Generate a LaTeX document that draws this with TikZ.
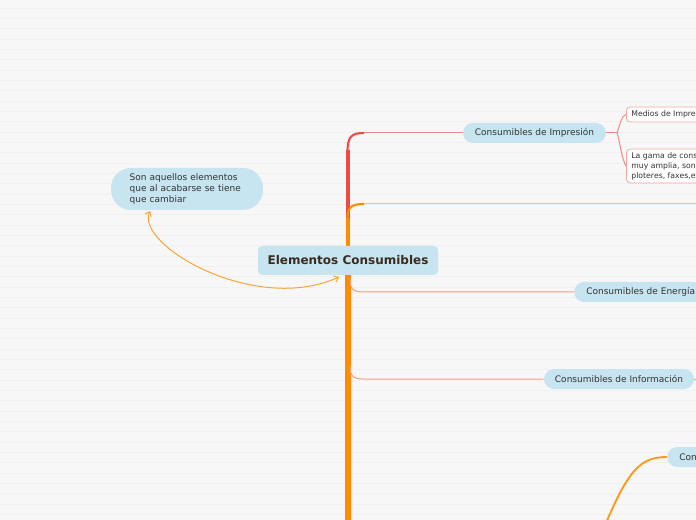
\documentclass[tikz,border=0pt]{standalone}
\usepackage{fontspec}
\setmainfont{DejaVu Sans}
\usetikzlibrary{arrows.meta}
\definecolor{bg}{HTML}{F7F7F7}
\definecolor{bgline}{HTML}{F0F0F0}
\definecolor{nodeblue}{HTML}{C6E5F0}
\definecolor{redtrunk}{HTML}{EF4B45}
\definecolor{orangetrunk}{HTML}{FF8C00}
\definecolor{redthin}{HTML}{F08A84}
\definecolor{peach}{HTML}{F8C07A}
\definecolor{salmon}{HTML}{F5A080}
\definecolor{boxborder}{HTML}{F4A8A4}
\definecolor{textdark}{HTML}{333333}
\definecolor{titlebrown}{HTML}{3B2A1E}
\definecolor{arrowor}{HTML}{F7A536}
\definecolor{bottomor}{HTML}{FF9A1A}
\tikzset{
  pill/.style={fill=nodeblue, rounded corners=7.5pt, minimum height=15pt, inner sep=0pt,
    font=\fontsize{6.75pt}{8pt}\selectfont, text=textdark},
  pillw/.style={pill, anchor=west, inner xsep=9pt},
  title/.style={fill=nodeblue, rounded corners=3pt, minimum width=135pt, minimum height=21.75pt,
    inner sep=0pt, font=\fontsize{9pt}{11pt}\selectfont\bfseries, text=titlebrown},
  note/.style={fill=nodeblue, rounded corners=15pt, minimum width=114pt, minimum height=31.5pt,
    inner sep=0pt, text width=86pt, align=left, font=\fontsize{6.75pt}{8.25pt}\selectfont, text=textdark},
  smallbox/.style={draw=boxborder, line width=0.6pt, fill=white, rounded corners=3pt, anchor=west,
    inner xsep=3.75pt, inner ysep=1.5pt, align=left, font=\fontsize{5.8pt}{7.5pt}\selectfont, text=textdark},
  thinred/.style={redthin, line width=0.75pt},
  thinsalmon/.style={salmon, line width=0.75pt},
  thinpeach/.style={peach, line width=0.75pt},
  trunk/.style={line width=3.6pt},
  relarrow/.style={arrowor, line width=0.75pt, {Straight Barb[length=3pt,width=5pt]}-{Straight Barb[length=3pt,width=5pt]}}
}
\begin{document}
\begin{tikzpicture}[x=0.75pt,y=-0.75pt]
\useasboundingbox (0,0) rectangle (696,520);
\clip (0,0) rectangle (696,520);
\fill[bg] (0,0) rectangle (696,520);
\foreach \k in {0,...,50} {
  \draw[bgline, line width=0.75pt] (0,{8.3+10.33*\k}) -- (696,{8.3+10.33*\k});
}
% nodes positions
\coordinate (redtop) at (348,150);
\coordinate (redcorner) at (364,133);
\coordinate (ortop) at (348,218);
\coordinate (orcorner) at (364,204);
\coordinate (orright) at (696,204);
\coordinate (trunkbot) at (348,525);
\coordinate (trunkmid) at (348,250);
\coordinate (ecorner) at (364,292);
\coordinate (icorner) at (364,379);
\coordinate (infoend) at (696,379);
\coordinate (fork) at (617,133);
\coordinate (botstart) at (603,530);

% trunk
\draw[redtrunk, trunk] (trunkmid) -- (redtop);
\draw[redtrunk, line width=1.6pt] (347.5,152) .. controls (347.5,137) and (351,133) .. (redcorner);
\draw[orangetrunk, trunk] (348,255) -- (ortop);
\draw[orangetrunk, line width=1.6pt] (347.5,220) .. controls (347.5,207) and (351,204) .. (orcorner);
\draw[thinpeach] (orcorner) -- (orright);
\draw[orangetrunk, line width=3.8pt] (348,262) -- (trunkbot);

% main nodes
\node[pill, minimum width=107.25pt] (imp) at (534.5,133) {Consumibles de Impresión};
\node[pillw] (ener) at (574,292) {Consumibles de Energía};
\node[pill, minimum width=112.5pt] (info) at (619,379) {Consumibles de Información};
\node[pillw] (con) at (667,457) {Consumibles};
\node[title] (center) at (348,260.5) {Elementos Consumibles};
\node[note] (nota) at (187,189) {Son aquellos elementos\\que al acabarse se tiene\\que cambiar};
\node[smallbox, minimum height=11.25pt] (medios) at (626,114.5) {Medios de Impresión};
\node[smallbox, minimum height=25.5pt] (gama) at (626,166) {La gama de consumibles es\\muy amplia, son para impresoras,\\ploteres, faxes,etc.};

% connectors
\draw[thinred] (redcorner) -- (imp.west);
\draw[thinsalmon] (350,279) .. controls (350,290) and (354,292) .. (ecorner) -- (ener.west);
\draw[thinsalmon] (350,366) .. controls (350,377) and (354,379) .. (icorner) -- (info.west);
\draw[thinsalmon] (info.east) -- (infoend);
\draw[thinred] (imp.east) -- (fork);
\draw[thinred] (fork) .. controls (620,124) and (622,115) .. (medios.west);
\draw[thinred] (fork) .. controls (620,142) and (622,160) .. (gama.west);
\draw[bottomor, line width=1.4pt] (botstart) .. controls (628,470) and (640,457) .. (con.west);
\draw[relarrow] (150,211) .. controls (135,245) and (255,315) .. (339,277);
\end{tikzpicture}
\end{document}
